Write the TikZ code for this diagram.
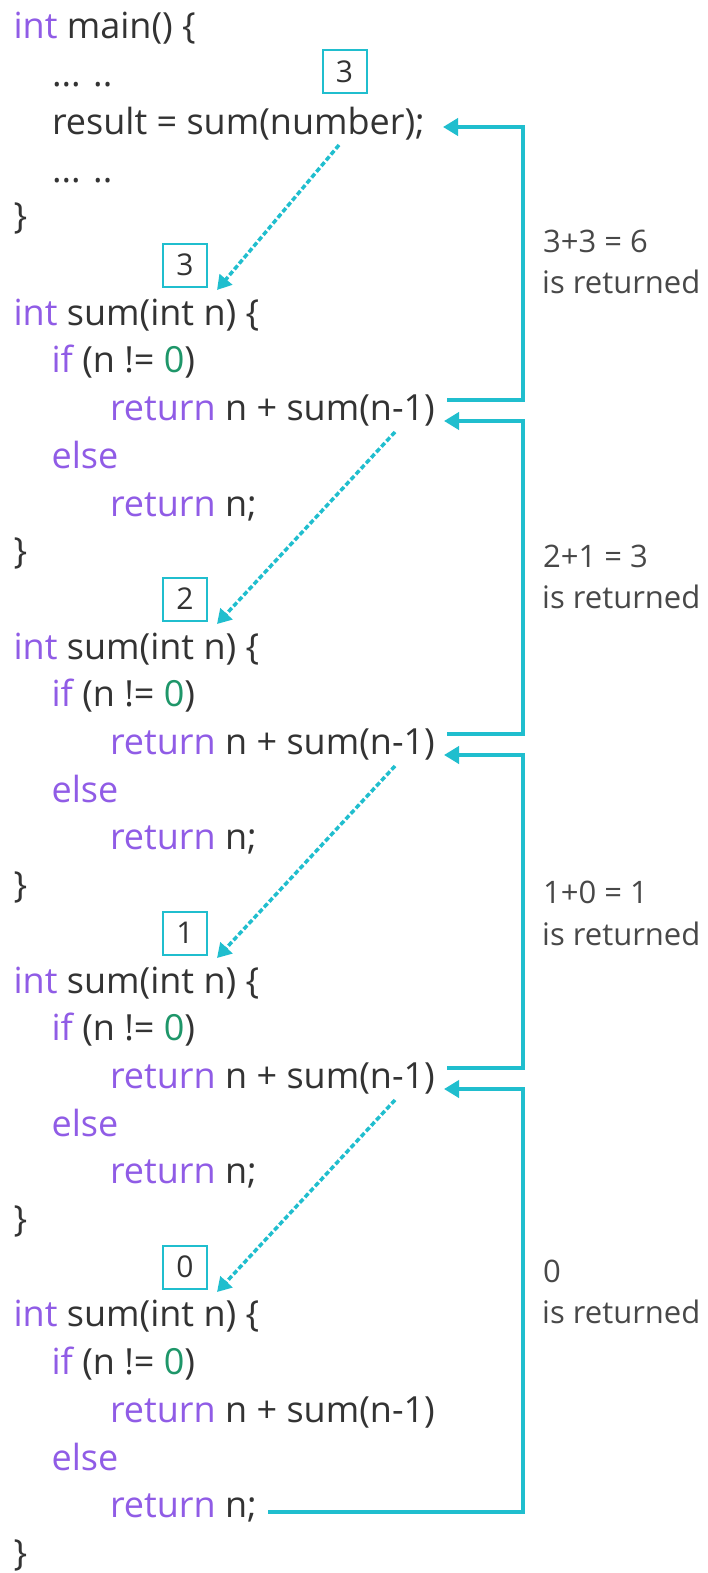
\documentclass[tikz,border=0pt]{standalone}
\usepackage{fontspec}
\setmainfont{Open Sans}
\usetikzlibrary{arrows.meta}
\definecolor{kwc}{RGB}{144,92,230}
\definecolor{numc}{RGB}{30,150,105}
\definecolor{txtc}{RGB}{51,51,51}
\definecolor{cyc}{RGB}{32,190,206}
\definecolor{labc}{RGB}{72,72,72}
\newcommand{\kw}[1]{\textcolor{kwc}{#1}}
\newcommand{\nm}[1]{\textcolor{numc}{#1}}
\begin{document}
\begin{tikzpicture}[x=1pt,y=-1pt,
  code/.style={anchor=base west,inner sep=0pt,outer sep=0pt,text=txtc,font=\fontsize{36}{40}\selectfont},
  numbox/.style={draw=cyc,line width=2pt,minimum width=44pt,minimum height=43pt,inner sep=0pt,text=txtc,font=\fontsize{30}{36}\selectfont},
  retlabel/.style={anchor=base west,inner sep=0pt,text=labc,font=\fontsize{31}{36}\selectfont},
  callarrow/.style={draw=cyc,line width=3.5pt,dash pattern=on 5pt off 2.5pt,-{Triangle[length=14pt,width=16pt]}},
  retarrow/.style={draw=cyc,line width=4pt,line join=miter,-{Triangle[length=15pt,width=17pt]}}]
\fill[white] (0,0) rectangle (708,1573);
\useasboundingbox (0,0) rectangle (708,1573);

% main
\node[code] (m0) at (13.6,39) {\kw{int} main() \{};
\node[code] (m1) at (52,86.7) {... ..};
\node[code] (m2) at (52,134.4) {result = sum(number);};
\node[code] (m3) at (52,182.1) {... ..};
\node[code] (m4) at (13.6,228) {\}};
\node[numbox] (b0) at (344.5,71.5) {3};

% block 1
\node[numbox] (b1) at (185,265) {3};
\node[code] (s1a) at (13.6,325.2) {\kw{int} sum(int n) \{};
\node[code] (s1b) at (51.6,372.9) {\kw{if} (n != \nm{0})};
\node[code] (s1c) at (110,420.6) {\kw{return} n + sum(n-1)};
\node[code] (s1d) at (51.6,468.3) {\kw{else}};
\node[code] (s1e) at (110,516) {\kw{return} n;};
\node[code] (s1f) at (13.6,563.7) {\}};

% block 2
\node[numbox] (b2) at (185,599) {2};
\node[code] (s2a) at (13.6,659.1) {\kw{int} sum(int n) \{};
\node[code] (s2b) at (51.6,706.8) {\kw{if} (n != \nm{0})};
\node[code] (s2c) at (110,754.5) {\kw{return} n + sum(n-1)};
\node[code] (s2d) at (51.6,802.2) {\kw{else}};
\node[code] (s2e) at (110,849.9) {\kw{return} n;};
\node[code] (s2f) at (13.6,897.6) {\}};

% block 3
\node[numbox] (b3) at (185,933) {1};
\node[code] (s3a) at (13.6,993) {\kw{int} sum(int n) \{};
\node[code] (s3b) at (51.6,1040.7) {\kw{if} (n != \nm{0})};
\node[code] (s3c) at (110,1088.4) {\kw{return} n + sum(n-1)};
\node[code] (s3d) at (51.6,1136.1) {\kw{else}};
\node[code] (s3e) at (110,1183.8) {\kw{return} n;};
\node[code] (s3f) at (13.6,1231.5) {\}};

% block 4
\node[numbox] (b4) at (185,1267) {0};
\node[code] (s4a) at (13.6,1326.9) {\kw{int} sum(int n) \{};
\node[code] (s4b) at (51.6,1374.6) {\kw{if} (n != \nm{0})};
\node[code] (s4c) at (110,1422.3) {\kw{return} n + sum(n-1)};
\node[code] (s4d) at (51.6,1470) {\kw{else}};
\node[code] (s4e) at (110,1517.7) {\kw{return} n;};
\node[code] (s4f) at (13.6,1565.4) {\}};

% labels
\node[retlabel] (l1a) at (543,252) {3+3 = 6};
\node[retlabel] (l1b) at (542,293) {is returned};
\node[retlabel] (l2a) at (543,567) {2+1 = 3};
\node[retlabel] (l2b) at (542,608) {is returned};
\node[retlabel] (l3a) at (543,903) {1+0 = 1};
\node[retlabel] (l3b) at (542,945) {is returned};
\node[retlabel] (l4a) at (543,1282) {0};
\node[retlabel] (l4b) at (542,1323) {is returned};

% call arrow coordinates
\coordinate (c0s) at (339,145);
\coordinate (c0e) at (217,290);
\coordinate (c1s) at (395,432);
\coordinate (c1e) at (217,624);
\coordinate (c2s) at (395,766);
\coordinate (c2e) at (217,958);
\coordinate (c3s) at (395,1100);
\coordinate (c3e) at (217,1292);
\draw[callarrow] (c0s) -- (c0e);
\draw[callarrow] (c1s) -- (c1e);
\draw[callarrow] (c2s) -- (c2e);
\draw[callarrow] (c3s) -- (c3e);

% return arrow coordinates
\coordinate (r1s) at (447,400);
\coordinate (r1e) at (443,127);
\coordinate (r2s) at (447,734);
\coordinate (r2e) at (444,421);
\coordinate (r3s) at (447,1068);
\coordinate (r3e) at (444,755);
\coordinate (r4s) at (268,1512);
\coordinate (r4e) at (444,1089);
\draw[retarrow] (r1s) -- (523,400) -- (523,127) -- (r1e);
\draw[retarrow] (r2s) -- (523,734) -- (523,421) -- (r2e);
\draw[retarrow] (r3s) -- (523,1068) -- (523,755) -- (r3e);
\draw[retarrow] (r4s) -- (523,1512) -- (523,1089) -- (r4e);
\end{tikzpicture}
\end{document}
